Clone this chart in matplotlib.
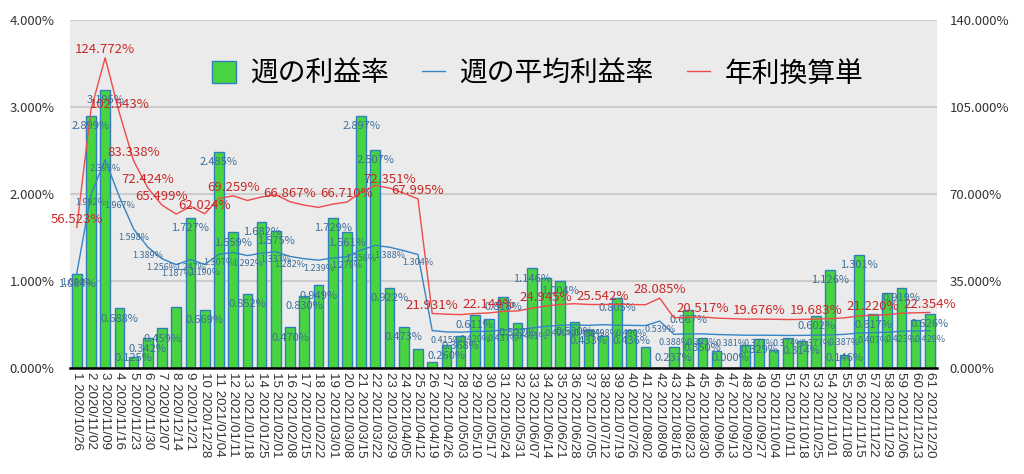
import numpy as np
import matplotlib
matplotlib.use("Agg")
import matplotlib.pyplot as plt
from matplotlib.patches import Patch
from matplotlib.lines import Line2D

plt.rcParams['font.family'] = ['Noto Sans CJK JP', 'DejaVu Sans']

# week number / start date
dates = [
    "2020/10/26", "2020/11/02", "2020/11/09", "2020/11/16", "2020/11/23", "2020/11/30",
    "2020/12/07", "2020/12/14", "2020/12/21", "2020/12/28", "2021/01/04", "2021/01/11",
    "2021/01/18", "2021/01/25", "2021/02/01", "2021/02/08", "2021/02/15", "2021/02/22",
    "2021/03/01", "2021/03/08", "2021/03/15", "2021/03/22", "2021/03/29", "2021/04/05",
    "2021/04/12", "2021/04/19", "2021/04/26", "2021/05/03", "2021/05/10", "2021/05/17",
    "2021/05/24", "2021/05/31", "2021/06/07", "2021/06/14", "2021/06/21", "2021/06/28",
    "2021/07/05", "2021/07/12", "2021/07/19", "2021/07/26", "2021/08/02", "2021/08/09",
    "2021/08/16", "2021/08/23", "2021/08/30", "2021/09/06", "2021/09/13", "2021/09/20",
    "2021/09/27", "2021/10/04", "2021/10/11", "2021/10/18", "2021/10/25", "2021/11/01",
    "2021/11/08", "2021/11/15", "2021/11/22", "2021/11/29", "2021/12/06", "2021/12/13",
    "2021/12/20",
]

# weekly profit rate (%)
weekly = [
    1.084, 2.899, 3.195, 0.688, 0.125, 0.342, 0.459, 0.704, 1.727, 0.669,
    2.485, 1.559, 0.852, 1.682, 1.575, 0.470, 0.830, 0.949, 1.729, 1.561,
    2.897, 2.507, 0.922, 0.473, 0.217, 0.065, 0.260, 0.368, 0.611, 0.560,
    0.818, 0.522, 1.146, 1.040, 1.004, 0.530, 0.433, 0.370, 0.805, 0.436,
    0.245, 0.000, 0.237, 0.667, 0.350, 0.200, 0.000, 0.260, 0.329, 0.210,
    0.340, 0.314, 0.602, 1.126, 0.146, 1.301, 0.617, 0.860, 0.919, 0.550,
    0.626,
]

# average weekly profit rate (%)
average = [
    1.084, 1.992, 2.393, 1.967, 1.598, 1.389, 1.256, 1.187, 1.247, 1.190,
    1.307, 1.328, 1.292, 1.319, 1.337, 1.282, 1.256, 1.239, 1.264, 1.279,
    1.356, 1.409, 1.388, 1.349, 1.304, 0.430, 0.415, 0.412, 0.420, 0.423,
    0.437, 0.440, 0.461, 0.478, 0.490, 0.496, 0.490, 0.498, 0.492, 0.490,
    0.488, 0.539, 0.388, 0.391, 0.393, 0.385, 0.381, 0.377, 0.377, 0.376,
    0.374, 0.375, 0.377, 0.381, 0.387, 0.402, 0.407, 0.411, 0.423, 0.426,
    0.429,
]

# annualised (%)
annual = [
    56.523, 103.870, 124.772, 102.543, 83.338, 72.424, 65.499, 61.890, 65.020, 62.024,
    68.150, 69.259, 67.370, 68.780, 69.710, 66.867, 65.490, 64.600, 65.910, 66.710,
    70.710, 73.470, 72.351, 70.340, 67.995, 21.931, 21.640, 21.480, 21.900, 22.144,
    22.790, 22.940, 24.040, 24.945, 25.550, 25.860, 25.550, 25.542, 25.650, 25.550,
    25.450, 28.085, 20.230, 20.400, 20.517, 20.080, 19.870, 19.660, 19.676, 19.610,
    19.500, 19.560, 19.683, 19.870, 20.180, 20.960, 21.220, 21.430, 22.060, 22.210,
    22.354,
]

bar_labeled = [1, 2, 3, 4, 5, 6, 7, 9, 10, 11, 12, 13, 14, 15, 16, 17, 18, 19, 20, 21,
               22, 23, 24, 27, 28, 29, 31, 32, 33, 35, 36, 37, 39, 40, 43, 44, 45, 47,
               49, 52, 53, 54, 55, 56, 57, 59, 61]
avg_labeled = [1, 2, 3, 4, 5, 6, 7, 8, 9, 10, 11, 13, 15, 16, 18, 20, 21, 23, 25,
               27, 29, 31, 33, 35, 37, 38, 40, 42, 43, 45, 47, 49, 51, 53, 55, 57, 59, 61]
annual_labeled = [1, 3, 4, 5, 6, 7, 10, 12, 16, 20, 23, 25, 26, 30, 34, 38, 42, 45,
                  49, 53, 57, 61]

x = np.arange(1, len(weekly) + 1)
ticklabels = [f"{i} {d}" for i, d in zip(x, dates)]

bar_green = '#48d43f'
bar_edge = '#2f7fbf'
blue = '#3584c4'
red = '#ef4a4a'
label_blue = '#3c6e9a'
label_red = '#c82828'

fig = plt.figure(figsize=(10.24, 4.74), dpi=100)
ax1 = fig.add_axes([0.068, 0.2236, 0.847, 0.7344])
ax1.set_facecolor('#ebebeb')
ax2 = ax1.twinx()

ax1.bar(x, weekly, width=0.68, color=bar_green, edgecolor=bar_edge, linewidth=1.0, zorder=2)
ax1.plot(x, average, color=blue, linewidth=1.0, zorder=3)
ax2.plot(x, annual, color=red, linewidth=1.0, zorder=3)

ax1.set_xlim(0.5, len(weekly) + 0.5)
ax1.set_ylim(0, 4)
ax2.set_ylim(0, 140)
ax1.set_yticks([0, 1, 2, 3, 4])
ax1.set_yticklabels([f"{v:.3f}%" for v in [0, 1, 2, 3, 4]])
ax2.set_yticks([0, 35, 70, 105, 140])
ax2.set_yticklabels([f"{v:.3f}%" for v in [0, 35, 70, 105, 140]])

ax1.yaxis.grid(True, color='#c6c6c6', linewidth=1.2, zorder=0)
ax1.set_axisbelow(True)
for ax in (ax1, ax2):
    for s in ('top', 'left', 'right', 'bottom'):
        ax.spines[s].set_visible(False)
ax1.axhline(0, color='black', linewidth=1.8, zorder=4, clip_on=False)

ax1.set_xticks(x)
ax1.set_xticklabels(ticklabels, rotation=270, fontsize=9.6, color='#333333',
                    family=['Liberation Sans', 'DejaVu Sans'])
ax1.tick_params(axis='x', length=0, pad=3)
ax1.tick_params(axis='y', length=0, labelsize=9.5, labelcolor='#333333', pad=11)
ax2.tick_params(axis='y', length=0, labelsize=9.5, labelcolor='#333333', pad=9)

# value labels
for i in bar_labeled:
    v = weekly[i - 1]
    ax1.text(i, max(v - 0.12, 0.12), f"{v:.3f}%", ha='center', va='center',
             fontsize=8, color=label_blue, zorder=5)
for i in avg_labeled:
    v = average[i - 1]
    ax1.annotate(f"{v:.3f}%", (i, v), xytext=(0, -6), textcoords='offset points',
                 ha='center', va='center', fontsize=6.5, color=label_blue, zorder=5)
for i in annual_labeled:
    v = annual[i - 1]
    ax2.annotate(f"{v:.3f}%", (i, v), xytext=(0, 6), textcoords='offset points',
                 ha='center', va='center', fontsize=9.5, color=label_red, zorder=6)

handles = [
    Patch(facecolor=bar_green, edgecolor=bar_edge, linewidth=1.0),
    Line2D([0], [0], color=blue, linewidth=1.0),
    Line2D([0], [0], color=red, linewidth=1.0),
]
labels = ['週の利益率', '週の平均利益率', '年利換算単']
fig.legend(handles, labels, loc='center', bbox_to_anchor=(0.525, 0.845), ncol=3,
           frameon=False, fontsize=20, handlelength=0.85, handleheight=0.85,
           columnspacing=1.2, handletextpad=0.5)

fig.savefig('out.png', dpi=100)
